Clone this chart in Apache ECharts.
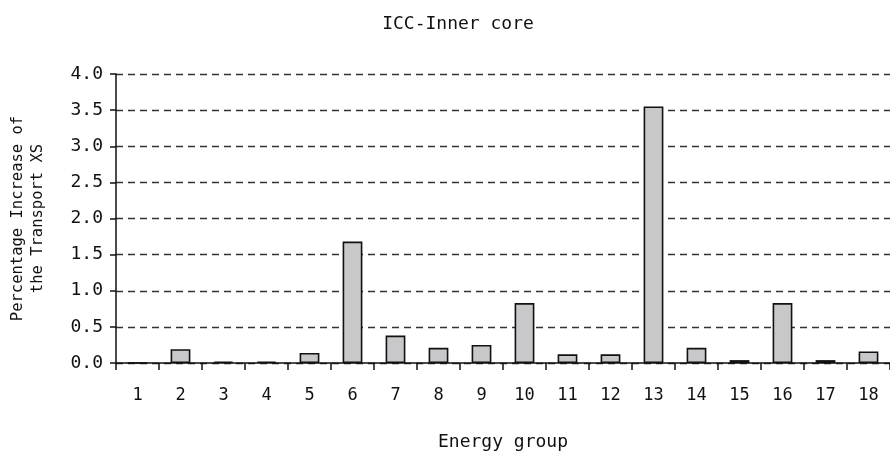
<!DOCTYPE html>
<html>
<head>
<meta charset="utf-8">
<script src="https://cdn.jsdelivr.net/npm/echarts@6/dist/echarts.min.js"></script>
<style>html,body{margin:0;padding:0;background:#fff}#c{width:890px;height:456px}</style>
</head>
<body>
<div id="c"></div>
<script>
const categories = ['1','2','3','4','5','6','7','8','9','10','11','12','13','14','15','16','17','18'];
const values = [0, 0.19, 0.02, 0.02, 0.14, 1.68, 0.38, 0.21, 0.25, 0.83, 0.12, 0.12, 3.55, 0.21, 0.04, 0.83, 0.04, 0.16];
const yTicks = ['0.0','0.5','1.0','1.5','2.0','2.5','3.0','3.5','4.0'];

const FONT = '"DejaVu Sans Mono", monospace';
const chart = echarts.init(document.getElementById('c'), null, {renderer: 'canvas'});
chart.setOption({
  animation: false,
  backgroundColor: '#fff',
  title: {
    text: 'ICC-Inner core',
    left: 453, top: 10, textAlign: 'center',
    textStyle: {fontFamily: FONT, fontSize: 18, fontWeight: 'normal', color: '#111'}
  },
  grid: {left: 112, top: 74, width: 787, height: 300, containLabel: false},
  xAxis: {
    type: 'category',
    data: categories,
    name: 'Energy group',
    nameLocation: 'middle',
    nameGap: 70,
    nameTextStyle: {fontFamily: FONT, fontSize: 18, color: '#111'},
    axisLine: {lineStyle: {color: '#111', width: 1.5}},
    axisTick: {show: true, length: 7, inside: false, alignWithLabel: false, lineStyle: {color: '#111', width: 1.5}},
    axisLabel: {fontFamily: FONT, fontSize: 17, color: '#111', margin: 24, interval: 0}
  },
  yAxis: {
    type: 'value',
    min: 0, max: 4, interval: 0.5,
    name: 'Percentage Increase of\nthe Transport XS',
    nameLocation: 'middle',
    nameGap: 68,
    nameRotate: 90,
    nameTextStyle: {fontFamily: FONT, fontSize: 15.5, color: '#111', lineHeight: 20},
    axisLine: {show: true, lineStyle: {color: '#111', width: 1.5}},
    axisTick: {show: true, length: 6, lineStyle: {color: '#111', width: 1.5}},
    axisLabel: {fontFamily: FONT, fontSize: 18, color: '#111', margin: 13,
      formatter: function (v) { return yTicks[Math.round(v / 0.5)]; }},
    splitLine: {show: true, lineStyle: {color: '#333', width: 1.3, type: [7, 5]}}
  },
  series: [{
    type: 'bar',
    data: values,
    barWidth: '46%',
    itemStyle: {color: '#c8c8ca', borderColor: '#111', borderWidth: 1.6}
  }]
});
</script>
</body>
</html>
